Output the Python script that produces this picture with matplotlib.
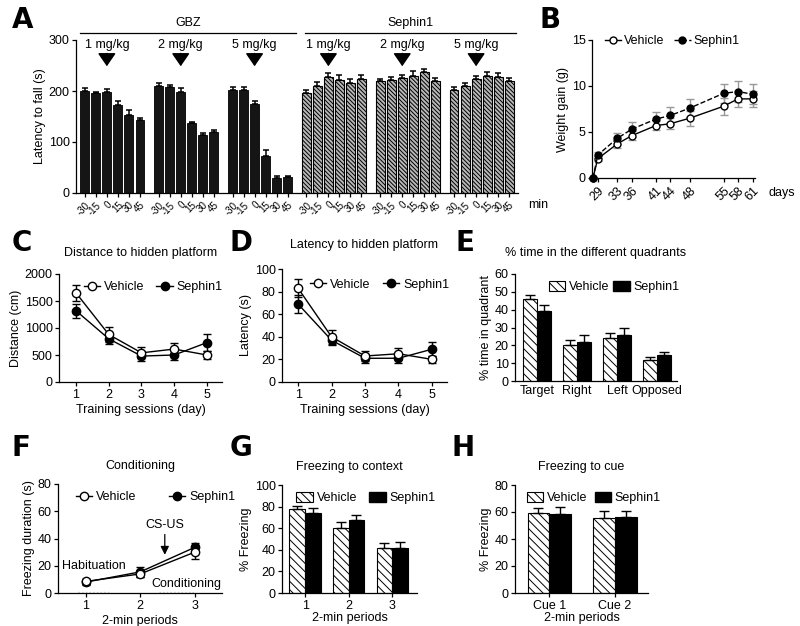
import numpy as np
import matplotlib.pyplot as plt
from matplotlib.patches import Patch
from matplotlib.lines import Line2D

plt.rcParams['font.family'] = ['Liberation Sans', 'DejaVu Sans']
plt.rcParams['font.size'] = 9
plt.rcParams['hatch.linewidth'] = 0.7
plt.rcParams['axes.linewidth'] = 0.9
plt.rcParams['xtick.major.size'] = 3
plt.rcParams['ytick.major.size'] = 3
plt.rcParams['xtick.major.width'] = 0.9
plt.rcParams['ytick.major.width'] = 0.9
plt.rcParams['xtick.major.pad'] = 2
plt.rcParams['ytick.major.pad'] = 1.5
plt.rcParams['axes.labelpad'] = 2

W, H = 800, 626

# ---------------- data ----------------
# A: rotarod, latency to fall (s)
a_minutes = ['-30', '-15', '0', '15', '30', '45']
a_doses = ['1 mg/kg', '2 mg/kg', '5 mg/kg']
a_gbz = [[200, 196, 199, 172, 152, 143],
         [209, 207, 199, 137, 113, 119],
         [202, 202, 174, 73, 29, 31]]
a_gbz_err = [[5, 3, 5, 8, 10, 5],
             [7, 4, 6, 3, 5, 5],
             [5, 6, 6, 12, 4, 3]]
a_seph = [[196, 209, 227, 222, 215, 223],
          [219, 222, 226, 230, 238, 220],
          [202, 210, 223, 230, 228, 220]]
a_seph_err = [[5, 8, 8, 10, 9, 9],
              [5, 6, 6, 10, 6, 6],
              [5, 6, 6, 8, 8, 5]]

# B: weight gain (g)
b_days = [28, 29, 33, 36, 41, 44, 48, 55, 58, 61]
b_ticks = [29, 33, 36, 41, 44, 48, 55, 58, 61]
b_veh = [0, 2.1, 3.7, 4.6, 5.7, 5.9, 6.5, 7.8, 8.6, 8.6]
b_veh_err = [0, 0.3, 0.4, 0.5, 0.5, 0.6, 0.8, 0.9, 0.9, 0.9]
b_seph = [0, 2.5, 4.3, 5.3, 6.4, 6.8, 7.6, 9.2, 9.4, 9.1]
b_seph_err = [0, 0.3, 0.6, 0.8, 0.8, 0.9, 1.0, 1.0, 1.1, 1.1]

# C / D: water maze
sessions = [1, 2, 3, 4, 5]
c_veh = [1650, 880, 540, 610, 500]
c_veh_err = [150, 130, 100, 120, 80]
c_seph = [1320, 800, 480, 500, 730]
c_seph_err = [130, 100, 100, 100, 150]
d_veh = [83, 40, 23, 25, 20]
d_veh_err = [8, 6, 4, 5, 3]
d_seph = [69, 37, 21, 21, 29]
d_seph_err = [8, 4, 4, 4, 6]

# E: probe trial
quadrants = ['Target', 'Right', 'Left', 'Opposed']
e_veh = [46, 20, 24, 12]
e_veh_err = [2.5, 3, 3, 1.5]
e_seph = [39, 22, 26, 14.5]
e_seph_err = [3.5, 4, 3.5, 2]

# F / G / H: fear conditioning
periods = [1, 2, 3]
f_veh = [8.5, 14, 30]
f_veh_err = [2, 2, 5]
f_seph = [8, 15.5, 33.5]
f_seph_err = [2, 3.5, 3]
g_veh = [77.5, 60.5, 41.5]
g_veh_err = [3, 5, 4.5]
g_seph = [74.5, 68, 42]
g_seph_err = [4.5, 4, 5.5]
cues = ['Cue 1', 'Cue 2']
h_veh = [59, 55.5]
h_veh_err = [4, 5]
h_seph = [58.5, 56]
h_seph_err = [5, 4.5]


def make_ax(fig, left, top, right, bottom):
    # pixel box -> figure fraction
    ax = fig.add_axes([left / W, 1 - bottom / H, (right - left) / W, (bottom - top) / H])
    ax.spines[['top', 'right']].set_visible(False)
    return ax


def letter(fig, s, x, y):
    fig.text(x / W, 1 - y / H, s, fontsize=20, fontweight='bold',
             family=['Liberation Sans Narrow', 'DejaVu Sans'], ha='left', va='center')


def vs_legend_lines(ax, **kw):
    hv = Line2D([], [], color='black', lw=1, marker='o', ms=6, mfc='white', mec='black')
    hs = Line2D([], [], color='black', lw=1, marker='o', ms=6, mfc='black', mec='black')
    ax.legend([hv, hs], ['Vehicle', 'Sephin1'], frameon=False, ncol=2,
              handlelength=1.3, handletextpad=0.3, borderaxespad=0, **kw)


def vs_legend_bars(ax, **kw):
    hv = Patch(facecolor='white', edgecolor='black', hatch='\\' * 4, lw=0.8)
    hs = Patch(facecolor='black', edgecolor='black')
    ax.legend([hv, hs], ['Vehicle', 'Sephin1'], frameon=False, ncol=2,
              handlelength=1.3, handleheight=0.8, handletextpad=0.3,
              borderaxespad=0, **kw)


def line_panel(ax, x, veh, veh_err, seph, seph_err):
    ax.errorbar(x, seph, yerr=seph_err, color='black', lw=1, marker='o', ms=6,
                mfc='black', mec='black', capsize=3, elinewidth=1, capthick=1)
    ax.errorbar(x, veh, yerr=veh_err, color='black', lw=1, marker='o', ms=6,
                mfc='white', mec='black', capsize=3, elinewidth=1, capthick=1)


def bar_pair(ax, x, veh, veh_err, seph, seph_err, width):
    x = np.asarray(x, dtype=float)
    ax.bar(x - width / 2, veh, width, facecolor='white', edgecolor='black',
           hatch='\\' * 4, lw=0.8)
    ax.bar(x + width / 2, seph, width, facecolor='black', edgecolor='black', lw=0.8)
    ax.errorbar(x - width / 2, veh, yerr=[np.zeros(len(veh)), veh_err], fmt='none',
                ecolor='black', capsize=3.5, elinewidth=1, capthick=1)
    ax.errorbar(x + width / 2, seph, yerr=[np.zeros(len(seph)), seph_err], fmt='none',
                ecolor='black', capsize=3.5, elinewidth=1, capthick=1)


fig = plt.figure(figsize=(W / 100, H / 100), dpi=100)

# ---------------- A ----------------
ax = make_ax(fig, 76, 40, 518, 193)
step = 6.7
positions, labels = [], []
for g in range(6):
    xs = g * step + np.arange(6)
    if g < 3:
        vals, errs = a_gbz[g], a_gbz_err[g]
        ax.bar(xs, vals, 0.8, facecolor='#151515', edgecolor='black', lw=0.6)
    else:
        vals, errs = a_seph[g - 3], a_seph_err[g - 3]
        ax.bar(xs, vals, 0.8, facecolor='#b8b8b8', edgecolor='black', lw=0.8,
               hatch='\\' * 8)
    ax.errorbar(xs, vals, yerr=[np.zeros(6), errs], fmt='none', ecolor='black',
                capsize=2.5, elinewidth=1.1, capthick=1.1)
    positions += list(xs)
    labels += a_minutes
    ax.annotate('', xy=(xs[2], 243), xytext=(xs[2], 279),
                arrowprops=dict(arrowstyle='-|>,head_length=0.8,head_width=0.55',
                                color='black', lw=1.1, mutation_scale=10))
    ax.text(xs[2], 290, a_doses[g % 3], ha='center', va='center')
ax.set_xlim(-0.8, 5 * step + 5 + 0.8)
ax.set_ylim(0, 300)
ax.set_yticks([0, 100, 200, 300])
ax.set_xticks(positions)
ax.set_xticklabels(labels, rotation=45, ha='right', rotation_mode='anchor', fontsize=7)
ax.set_ylabel('Latency to fall (s)')
for x0, x1, name in [(-0.4, 2 * step + 5.8, 'GBZ'), (3 * step - 0.1, 5 * step + 5.6, 'Sephin1')]:
    ax.plot([x0, x1], [1.046, 1.046], color='black', lw=0.9,
            transform=ax.get_xaxis_transform(), clip_on=False)
    ax.text((x0 + x1) / 2, 1.075, name, ha='center', va='bottom',
            transform=ax.get_xaxis_transform())
ax.text(1.022, -0.08, 'min', transform=ax.transAxes, ha='left', va='center')

# ---------------- B ----------------
ax = make_ax(fig, 592, 40, 755, 178)
ax.errorbar(b_days, b_veh, yerr=b_veh_err, color='black', lw=1, marker='o', ms=5,
            mfc='white', mec='black', ecolor='#999999', capsize=3, elinewidth=1,
            clip_on=False, zorder=3)
ax.errorbar(b_days, b_seph, yerr=b_seph_err, color='black', lw=1, ls='--', marker='o',
            ms=5, mfc='black', mec='black', ecolor='#999999', capsize=3, elinewidth=1,
            clip_on=False, zorder=3)
ax.set_xlim(27.8, 61.5)
ax.set_ylim(0, 15)
ax.set_yticks([0, 5, 10, 15])
ax.set_xticks(b_ticks)
ax.set_xticklabels([str(d) for d in b_ticks], rotation=45, ha='right',
                   rotation_mode='anchor')
ax.set_ylabel('Weight gain (g)')
ax.text(1.08, -0.11, 'days', transform=ax.transAxes, ha='left', va='center')
hv = Line2D([], [], color='black', lw=1, marker='o', ms=5, mfc='white', mec='black')
hs = Line2D([], [], color='black', lw=1, ls='--', marker='o', ms=5, mfc='black', mec='black')
ax.legend([hv, hs], ['Vehicle', 'Sephin1'], frameon=False, ncol=2, loc='upper left',
          bbox_to_anchor=(0.05, 1.07), handlelength=1.3, handletextpad=0.2,
          columnspacing=0.8, borderaxespad=0)

# ---------------- C ----------------
ax = make_ax(fig, 59, 274, 222, 382)
line_panel(ax, sessions, c_veh, c_veh_err, c_seph, c_seph_err)
ax.set_xlim(0.48, 5.46)
ax.set_ylim(0, 2000)
ax.set_xticks(sessions)
ax.set_yticks([0, 500, 1000, 1500, 2000])
ax.set_xlabel('Training sessions (day)')
ax.set_ylabel('Distance (cm)')
ax.set_title('Distance to hidden platform', fontsize=9, pad=13)
vs_legend_lines(ax, loc='upper left', bbox_to_anchor=(0.12, 0.98), columnspacing=1.0)

# ---------------- D ----------------
ax = make_ax(fig, 282, 269, 447, 382)
line_panel(ax, sessions, d_veh, d_veh_err, d_seph, d_seph_err)
ax.set_xlim(0.52, 5.45)
ax.set_ylim(0, 100)
ax.set_xticks(sessions)
ax.set_yticks([0, 20, 40, 60, 80, 100])
ax.set_xlabel('Training sessions (day)')
ax.set_ylabel('Latency (s)')
ax.set_title('Latency to hidden platform', fontsize=9, pad=15)
vs_legend_lines(ax, loc='upper left', bbox_to_anchor=(0.14, 0.96), columnspacing=1.0)

# ---------------- E ----------------
ax = make_ax(fig, 515, 274, 677, 381)
bar_pair(ax, np.arange(4), e_veh, e_veh_err, e_seph, e_seph_err, 0.35)
ax.set_xlim(-0.55, 3.5)
ax.set_ylim(0, 60)
ax.set_yticks([0, 10, 20, 30, 40, 50, 60])
ax.set_xticks(np.arange(4))
ax.set_xticklabels(quadrants)
ax.tick_params(axis='x', length=0, pad=3)
ax.set_ylabel('% time in quadrant')
ax.set_title('% time in the different quadrants', fontsize=9, pad=13)
vs_legend_bars(ax, loc='upper left', bbox_to_anchor=(0.18, 0.98), columnspacing=0.3)

# ---------------- F ----------------
ax = make_ax(fig, 58, 484, 222, 593)
ax.plot([0.85, 1.45], [0.6, 0.6], color='#cccccc', lw=1, ls=':')
ax.plot([2.35, 2.98], [0.6, 0.6], color='#cccccc', lw=1, ls=':')
line_panel(ax, periods, f_veh, f_veh_err, f_seph, f_seph_err)
ax.set_xlim(0.49, 3.5)
ax.set_ylim(0, 80)
ax.set_xticks(periods)
ax.set_yticks([0, 20, 40, 60, 80])
ax.set_xlabel('2-min periods')
ax.set_ylabel('Freezing duration (s)')
ax.set_title('Conditioning', fontsize=9, pad=11)
vs_legend_lines(ax, loc='upper left', bbox_to_anchor=(0.08, 0.98), columnspacing=2.6)
ax.text(0.57, 20, 'Habituation', ha='left', va='center')
ax.text(2.45, 50, 'CS-US', ha='center', va='center')
ax.annotate('', xy=(2.45, 26), xytext=(2.45, 45),
            arrowprops=dict(arrowstyle='-|>,head_length=0.5,head_width=0.25',
                            color='black', lw=0.9, mutation_scale=10))
ax.text(2.85, 6.5, 'Conditioning', ha='center', va='center')

# ---------------- G ----------------
ax = make_ax(fig, 282, 485, 417, 593)
bar_pair(ax, periods, g_veh, g_veh_err, g_seph, g_seph_err, 0.36)
ax.set_xlim(0.47, 3.57)
ax.set_ylim(0, 100)
ax.set_xticks(periods)
ax.set_yticks([0, 20, 40, 60, 80, 100])
ax.set_xlabel('2-min periods', labelpad=0)
ax.set_ylabel('% Freezing')
ax.set_title('Freezing to context', fontsize=9, pad=11)
vs_legend_bars(ax, loc='upper left', bbox_to_anchor=(0.07, 0.98), columnspacing=1.0)

# ---------------- H ----------------
ax = make_ax(fig, 515, 485, 648, 593)
bar_pair(ax, np.arange(2), h_veh, h_veh_err, h_seph, h_seph_err, 0.33)
ax.set_xlim(-0.52, 1.5)
ax.set_ylim(0, 80)
ax.set_xticks(np.arange(2))
ax.set_xticklabels(cues)
ax.set_yticks([0, 20, 40, 60, 80])
ax.set_xlabel('2-min periods', labelpad=0)
ax.set_ylabel('% Freezing')
ax.set_title('Freezing to cue', fontsize=9, pad=11)
vs_legend_bars(ax, loc='upper left', bbox_to_anchor=(0.05, 0.98), columnspacing=0.6)

for s, x, y in [('A', 12, 20), ('B', 540, 20), ('C', 12, 243), ('D', 230, 243),
                ('E', 455, 243), ('F', 12, 448), ('G', 230, 448), ('H', 452, 448)]:
    letter(fig, s, x, y)

fig.savefig('out.png', dpi=100)
